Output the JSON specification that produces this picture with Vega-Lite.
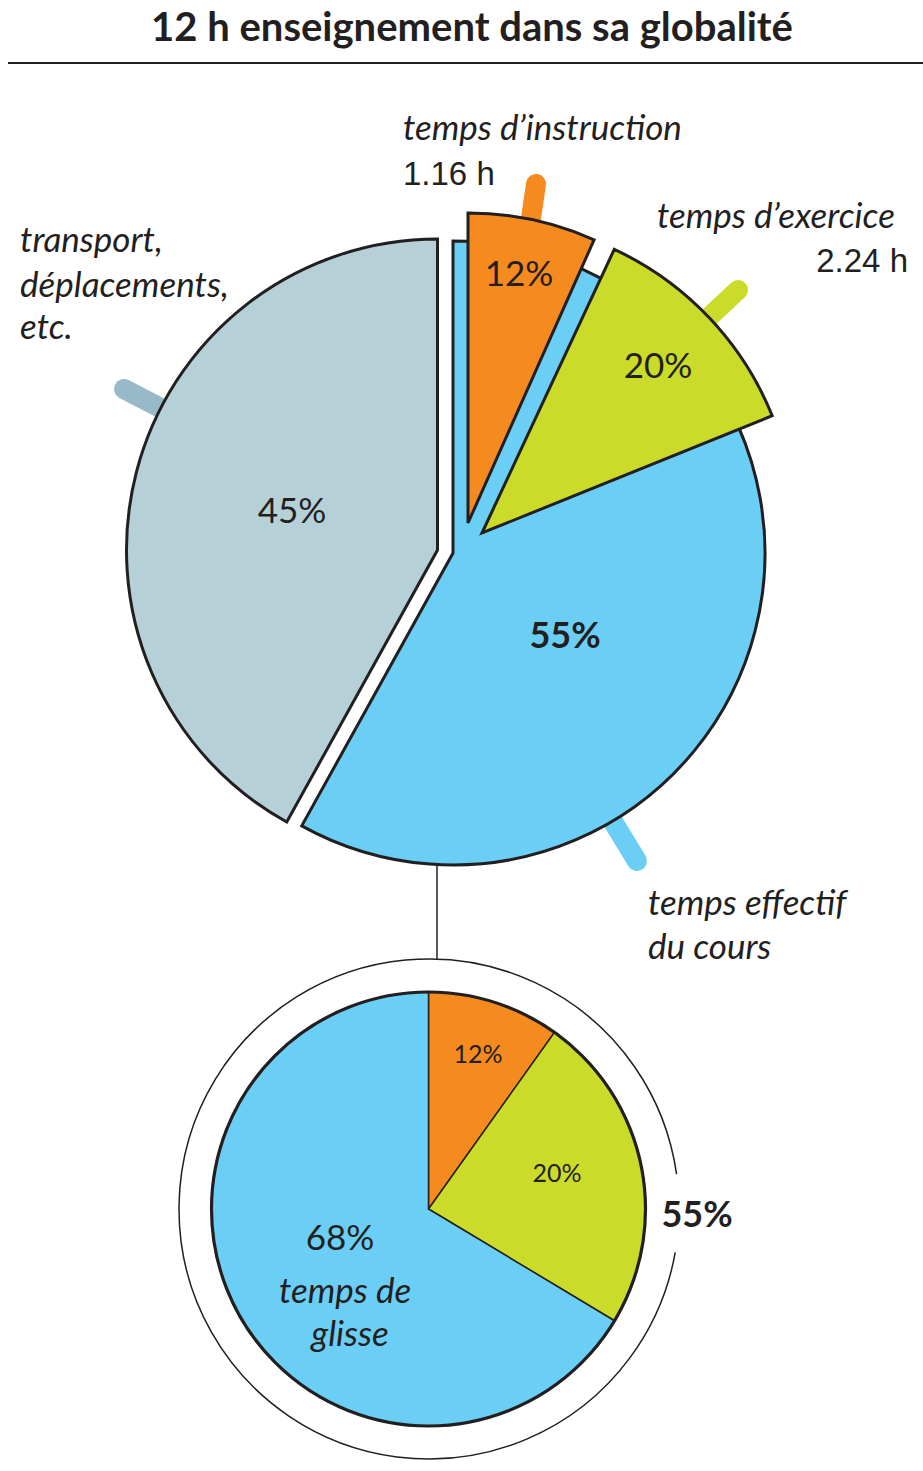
{
  "$schema": "https://vega.github.io/schema/vega-lite/v6.json",
  "width": 923,
  "height": 1471,
  "padding": 0,
  "autosize": {"type": "none"},
  "background": "white",
  "config": {"view": {"stroke": null}},
  "datasets": {
    "stubs": [
      {"part": "transport", "x": 178, "y": 417, "x2": 124, "y2": 389},
      {"part": "cours", "x": 601, "y": 802, "x2": 637, "y2": 861},
      {"part": "instruction", "x": 528, "y": 239, "x2": 536, "y2": 184},
      {"part": "exercice", "x": 692, "y": 333, "x2": 738, "y2": 290}
    ],
    "topSlices": [
      {"part": "transport", "x": 437.5, "y": 550, "a0": 209, "a1": 360, "r": 311, "r0": 0},
      {"part": "cours", "x": 453, "y": 553, "a0": 0, "a1": 209, "r": 312, "r0": 0},
      {"part": "instruction", "x": 468, "y": 523, "a0": 0, "a1": 24, "r": 310, "r0": 0},
      {"part": "exercice", "x": 482, "y": 533, "a0": 25, "a1": 68, "r": 313, "r0": 0}
    ],
    "bottomSlices": [
      {"part": "instruction", "x": 428.5, "y": 1209, "a0": 0, "a1": 35.5, "r": 217, "r0": 0},
      {"part": "exercice", "x": 428.5, "y": 1209, "a0": 35.5, "a1": 121, "r": 217, "r0": 0},
      {"part": "glisse", "x": 428.5, "y": 1209, "a0": 121, "a1": 360, "r": 217, "r0": 0}
    ],
    "outline": [
      {"x": 428.5, "y": 1209, "a0": 0, "a1": 360, "r": 217, "r0": 0}
    ],
    "ring": [
      {"x": 429, "y": 1209, "a0": 100, "a1": 442, "r": 250, "r0": 250}
    ],
    "underline": [{"x": 8, "y": 63, "x2": 923, "y2": 63}],
    "connector": [{"x": 437, "y": 866, "x2": 437, "y2": 959}],
    "title": [{"label": "12 h enseignement dans sa globalité", "x": 472, "y": 41}],
    "italicLeft": [
      {"label": "temps d’instruction", "x": 403, "y": 140},
      {"label": "temps d’exercice", "x": 657, "y": 228},
      {"label": "transport,", "x": 20, "y": 252},
      {"label": "déplacements,", "x": 20, "y": 297},
      {"label": "etc.", "x": 20, "y": 339},
      {"label": "temps effectif", "x": 648, "y": 915},
      {"label": "du cours", "x": 648, "y": 959}
    ],
    "italicCenter": [
      {"label": "temps de", "x": 345, "y": 1303},
      {"label": "glisse", "x": 350, "y": 1346}
    ],
    "hoursLeft": [{"label": "1.16 h", "x": 403, "y": 185}],
    "hoursRight": [{"label": "2.24 h", "x": 908, "y": 272}],
    "pct": [
      {"label": "12%", "x": 519, "y": 275},
      {"label": "20%", "x": 658, "y": 367},
      {"label": "45%", "x": 292, "y": 512},
      {"label": "68%", "x": 340, "y": 1239}
    ],
    "pctBold": [
      {"label": "55%", "x": 565, "y": 637},
      {"label": "55%", "x": 697, "y": 1216}
    ],
    "pctSmall": [
      {"label": "12%", "x": 478, "y": 1055},
      {"label": "20%", "x": 557, "y": 1174}
    ]
  },
  "encoding": {
    "x": {"field": "x", "type": "quantitative", "scale": {"domain": [0, 923], "nice": false, "zero": false}, "axis": null},
    "y": {"field": "y", "type": "quantitative", "scale": {"domain": [0, 1471], "nice": false, "zero": false, "reverse": true}, "axis": null}
  },
  "layer": [
    {
      "data": {"name": "stubs"},
      "mark": {"type": "rule", "strokeWidth": 20, "strokeCap": "round"},
      "encoding": {
        "x2": {"field": "x2"},
        "y2": {"field": "y2"},
        "stroke": {"field": "part", "type": "nominal", "legend": null,
          "scale": {"domain": ["transport", "cours", "instruction", "exercice"], "range": ["#98b9c7", "#6bcef5", "#f58a1f", "#cadb2a"]}}
      }
    },
    {
      "data": {"name": "topSlices"},
      "mark": {"type": "arc", "stroke": "#231f20", "strokeWidth": 3, "strokeJoin": "miter"},
      "encoding": {
        "theta": {"field": "a0", "type": "quantitative", "stack": null, "scale": {"domain": [0, 360], "range": [0, 6.283185307179586]}},
        "theta2": {"field": "a1"},
        "radius": {"field": "r", "type": "quantitative", "scale": {"type": "linear", "domain": [0, 400], "range": [0, 400], "zero": true}},
        "radius2": {"field": "r0"},
        "fill": {"field": "part", "type": "nominal", "legend": null,
          "scale": {"domain": ["transport", "cours", "instruction", "exercice", "glisse"], "range": ["#b6d0d8", "#6bcef5", "#f58a1f", "#cadb2a", "#6bcef5"]}}
      }
    },
    {
      "data": {"name": "bottomSlices"},
      "mark": {"type": "arc", "stroke": "#231f20", "strokeWidth": 1.5},
      "encoding": {
        "theta": {"field": "a0", "type": "quantitative", "stack": null},
        "theta2": {"field": "a1"},
        "radius": {"field": "r", "type": "quantitative"},
        "radius2": {"field": "r0"},
        "fill": {"field": "part", "type": "nominal", "legend": null}
      }
    },
    {
      "data": {"name": "outline"},
      "mark": {"type": "arc", "filled": false, "fill": null, "stroke": "#231f20", "strokeWidth": 3.2},
      "encoding": {
        "theta": {"field": "a0", "type": "quantitative", "stack": null},
        "theta2": {"field": "a1"},
        "radius": {"field": "r", "type": "quantitative"},
        "radius2": {"field": "r0"}
      }
    },
    {
      "data": {"name": "ring"},
      "mark": {"type": "arc", "filled": false, "fill": null, "stroke": "#231f20", "strokeWidth": 1.5},
      "encoding": {
        "theta": {"field": "a0", "type": "quantitative", "stack": null},
        "theta2": {"field": "a1"},
        "radius": {"field": "r", "type": "quantitative"},
        "radius2": {"field": "r0"}
      }
    },
    {
      "data": {"name": "underline"},
      "mark": {"type": "rule", "stroke": "#231f20", "strokeWidth": 2.2},
      "encoding": {"x2": {"field": "x2"}, "y2": {"field": "y2"}}
    },
    {
      "data": {"name": "connector"},
      "mark": {"type": "rule", "stroke": "#231f20", "strokeWidth": 1.5},
      "encoding": {"x2": {"field": "x2"}, "y2": {"field": "y2"}}
    },
    {
      "data": {"name": "title"},
      "mark": {"type": "text", "font": "Lato", "fontWeight": "bold", "fontSize": 40, "align": "center", "baseline": "alphabetic", "color": "#231f20"},
      "encoding": {"text": {"field": "label"}}
    },
    {
      "data": {"name": "italicLeft"},
      "mark": {"type": "text", "font": "Lato", "fontStyle": "italic", "fontSize": 35, "align": "left", "baseline": "alphabetic", "color": "#231f20"},
      "encoding": {"text": {"field": "label"}}
    },
    {
      "data": {"name": "italicCenter"},
      "mark": {"type": "text", "font": "Lato", "fontStyle": "italic", "fontSize": 35, "align": "center", "baseline": "alphabetic", "color": "#231f20"},
      "encoding": {"text": {"field": "label"}}
    },
    {
      "data": {"name": "hoursLeft"},
      "mark": {"type": "text", "font": "Liberation Sans", "fontSize": 33, "align": "left", "baseline": "alphabetic", "color": "#231f20"},
      "encoding": {"text": {"field": "label"}}
    },
    {
      "data": {"name": "hoursRight"},
      "mark": {"type": "text", "font": "Liberation Sans", "fontSize": 33, "align": "right", "baseline": "alphabetic", "color": "#231f20"},
      "encoding": {"text": {"field": "label"}}
    },
    {
      "data": {"name": "pct"},
      "mark": {"type": "text", "font": "Lato", "fontSize": 35, "align": "center", "baseline": "middle", "color": "#231f20"},
      "encoding": {"text": {"field": "label"}}
    },
    {
      "data": {"name": "pctBold"},
      "mark": {"type": "text", "font": "Lato", "fontWeight": "bold", "fontSize": 36, "align": "center", "baseline": "middle", "color": "#231f20"},
      "encoding": {"text": {"field": "label"}}
    },
    {
      "data": {"name": "pctSmall"},
      "mark": {"type": "text", "font": "Lato", "fontSize": 25, "align": "center", "baseline": "middle", "color": "#231f20"},
      "encoding": {"text": {"field": "label"}}
    }
  ]
}
